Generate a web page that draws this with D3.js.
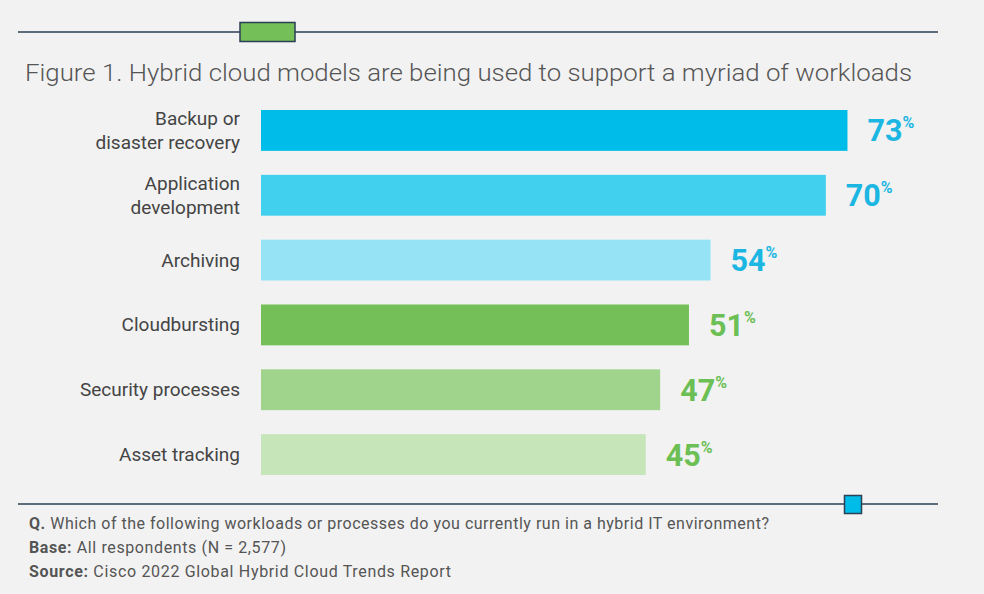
<!DOCTYPE html>
<html>
<head>
<meta charset="utf-8">
<script src="https://cdn.jsdelivr.net/npm/d3@7/dist/d3.min.js"></script>
<style>
  html, body { margin: 0; padding: 0; background: #f2f2f2; }
  svg { display: block; }
</style>
</head>
<body>
<script>
// ---- data ----
const categories = [
  ["Backup or", "disaster recovery"],
  ["Application", "development"],
  ["Archiving"],
  ["Cloudbursting"],
  ["Security processes"],
  ["Asset tracking"]
];
const values = [73, 70, 54, 51, 47, 45];
const barColors = ["#00bce8", "#42d0ef", "#96e3f5", "#74bf58", "#a0d38c", "#c6e6b9"];
const labelColors = ["#1cb6e2", "#1cb6e2", "#1cb6e2", "#6cbf55", "#6cbf55", "#6cbf55"];
const title = "Figure 1. Hybrid cloud models are being used to support a myriad of workloads";
const notes = [
  ["Q.", " Which of the following workloads or processes do you currently run in a hybrid IT environment?"],
  ["Base:", " All respondents (N = 2,577)"],
  ["Source:", " Cisco 2022 Global Hybrid Cloud Trends Report"]
];
const noteWidths = [740, 257, 422];

const W = 984, H = 594;
const svg = d3.select("body").append("svg").attr("width", W).attr("height", H);
svg.append("rect").attr("width", W).attr("height", H).attr("fill", "#f2f2f2");

// top rule with green marker
svg.append("line").attr("x1", 18).attr("x2", 938).attr("y1", 32).attr("y2", 32)
  .attr("stroke", "#2b3f55").attr("stroke-width", 1.6);
svg.append("rect").attr("x", 240).attr("y", 22.5).attr("width", 55).attr("height", 19)
  .attr("fill", "#74bf58").attr("stroke", "#2b3f55").attr("stroke-width", 1.5);

// title
svg.append("text").attr("x", 25).attr("y", 81)
  .attr("font-family", "Roboto, 'Open Sans', sans-serif").attr("font-weight", 300)
  .attr("font-size", 23).attr("fill", "#555")
  .attr("textLength", 887).attr("lengthAdjust", "spacingAndGlyphs")
  .text(title);

// scales
const x = d3.scaleLinear().domain([-8.4, 100]).range([261, 1042]);
const y = d3.scaleBand().domain(d3.range(values.length)).range([110, 475]).paddingInner(0.37).paddingOuter(0);

const g = svg.append("g");
g.selectAll("rect.bar").data(values).join("rect").attr("class", "bar")
  .attr("x", x(-8.4)).attr("y", (d, i) => y(i))
  .attr("width", d => x(d) - x(-8.4)).attr("height", y.bandwidth())
  .attr("fill", (d, i) => barColors[i]);

// value labels
const vl = g.selectAll("text.val").data(values).join("text").attr("class", "val")
  .attr("x", d => x(d) + 20).attr("y", (d, i) => y(i) + y.bandwidth() / 2 + 11)
  .attr("font-family", "Roboto, sans-serif").attr("font-weight", 700)
  .attr("fill", (d, i) => labelColors[i]);
vl.append("tspan").attr("font-size", 30.5).text(d => d);
vl.append("tspan").attr("font-size", 16).attr("dy", -13).text("%");

// category labels
const cl = g.selectAll("text.cat").data(categories).join("text").attr("class", "cat")
  .attr("text-anchor", "end")
  .attr("font-family", "Roboto, sans-serif").attr("font-size", 19).attr("fill", "#444");
cl.each(function(lines, i) {
  const t = d3.select(this);
  const cy = y(i) + y.bandwidth() / 2;
  const lh = 24;
  const y0 = cy - (lines.length - 1) * lh / 2 + 6.5;
  lines.forEach((ln, k) => {
    t.append("tspan").attr("x", 240).attr("y", y0 + k * lh).text(ln);
  });
});

// bottom rule with blue marker
svg.append("line").attr("x1", 18).attr("x2", 938).attr("y1", 504).attr("y2", 504)
  .attr("stroke", "#2b3f55").attr("stroke-width", 1.6);
svg.append("rect").attr("x", 844.5).attr("y", 495.5).attr("width", 17).attr("height", 18)
  .attr("fill", "#00bce8").attr("stroke", "#2b3f55").attr("stroke-width", 1.5);

// notes
const noteY = [529, 553, 577];
notes.forEach((n, i) => {
  const t = svg.append("text").attr("x", 29).attr("y", noteY[i])
    .attr("font-family", "Roboto, sans-serif").attr("font-size", 16).attr("fill", "#555")
    .attr("textLength", noteWidths[i]).attr("lengthAdjust", "spacing");
  t.append("tspan").attr("font-weight", 700).text(n[0]);
  t.append("tspan").attr("font-weight", 400).text(n[1]);
});
</script>
</body>
</html>
